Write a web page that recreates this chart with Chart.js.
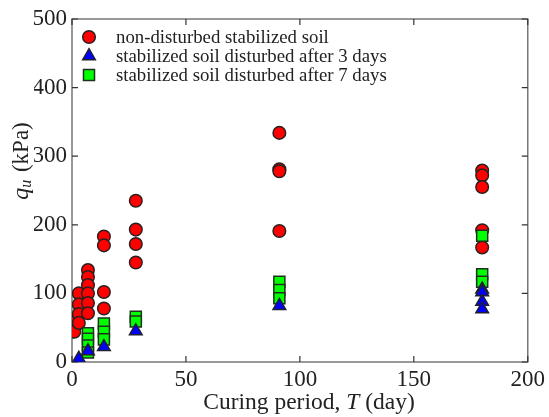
<!DOCTYPE html>
<html>
<head>
<meta charset="utf-8">
<script src="https://cdn.jsdelivr.net/npm/chart.js@4"></script>
<style>
  html, body { margin: 0; padding: 0; background: #fff; }
  #wrap { width: 549px; height: 417px; }
</style>
</head>
<body>
<div id="wrap"><canvas id="quChart"></canvas></div>
<script>
// curing period T (day) and unconfined strength qu (kPa)
const nonDistT = [1, 1, 1, 3, 3, 3, 3, 7, 7, 7, 7, 7, 7, 14, 14, 14, 14, 28, 28, 28, 28, 91, 91, 91, 91, 180, 180, 180, 180, 180];
const nonDistQu = [58, 49, 44, 100, 84, 70, 57, 134, 124, 112, 100, 86, 71, 183, 170, 102, 78, 235, 193, 172, 145, 334, 281, 278, 191, 279, 272, 255, 192, 167];

const dist3T = [3, 7, 14, 28, 91, 180, 180, 180, 180];
const dist3Qu = [5, 16, 22, 45, 82, 106, 102, 88, 77];

const dist7T = [7, 7, 7, 7, 14, 14, 14, 28, 28, 91, 91, 91, 180, 180, 180];
const dist7Qu = [42, 34, 24, 14, 56, 44, 33, 66, 59, 117, 105, 93, 184, 128, 117];

const xTicks = [0, 50, 100, 150, 200];
const yTicks = [0, 100, 200, 300, 400, 500];
const seriesNames = ["non-disturbed stabilized soil", "stabilized soil disturbed after 3 days", "stabilized soil disturbed after 7 days"];

const SERIF = "'Liberation Serif', 'Times New Roman', serif";
const pts = (xs, ys) => xs.map((x, i) => ({ x, y: ys[i] }));

// frame with inward ticks, legend and the two axis titles
const decor = {
  id: "decor",
  beforeDatasetsDraw(chart) {
    const { ctx, chartArea: a, scales } = chart;
    ctx.save();
    ctx.strokeStyle = "#777";
    ctx.lineWidth = 1.5;
    ctx.strokeRect(a.left, a.top, a.right - a.left, a.bottom - a.top);
    ctx.strokeStyle = "#333";
    ctx.lineWidth = 1.2;
    ctx.beginPath();
    for (const v of xTicks) {
      const x = scales.x.getPixelForValue(v);
      ctx.moveTo(x, a.bottom); ctx.lineTo(x, a.bottom - 6);
      ctx.moveTo(x, a.top); ctx.lineTo(x, a.top + 6);
    }
    for (const v of yTicks) {
      const y = scales.y.getPixelForValue(v);
      ctx.moveTo(a.left, y); ctx.lineTo(a.left + 6, y);
      ctx.moveTo(a.right, y); ctx.lineTo(a.right - 6, y);
    }
    ctx.stroke();
    ctx.restore();
  },
  afterDraw(chart) {
    const { ctx } = chart;
    ctx.save();
    ctx.fillStyle = "#222";
    ctx.textBaseline = "middle";

    // legend
    chart.data.datasets.forEach((ds, i) => {
      const y = 37 + i * 19;
      ctx.fillStyle = ds.backgroundColor;
      ctx.strokeStyle = ds.borderColor;
      ctx.lineWidth = ds.borderWidth;
      Chart.helpers.drawPoint(ctx, { pointStyle: ds.pointStyle, radius: ds.pointRadius, rotation: 0, borderWidth: ds.borderWidth }, 89, y);
      ctx.fillStyle = "#222";
      ctx.textAlign = "left";
      ctx.font = "18.8px " + SERIF;
      ctx.fillText(seriesNames[i], 116, y + 1);
    });

    // x title
    const parts = [["Curing period, ", ""], ["T", "italic "], [" (day)", ""]];
    let w = 0;
    for (const [t, s] of parts) { ctx.font = s + "23.5px " + SERIF; w += ctx.measureText(t).width; }
    let x = 309 - w / 2;
    ctx.textAlign = "left";
    for (const [t, s] of parts) {
      ctx.font = s + "23.5px " + SERIF;
      ctx.fillText(t, x, 403);
      x += ctx.measureText(t).width;
    }

    // y title, rotated
    ctx.translate(22, 162);
    ctx.rotate(-Math.PI / 2);
    ctx.font = "italic 24px " + SERIF;
    const wq = ctx.measureText("q").width;
    ctx.font = "italic 16px " + SERIF;
    const wu = ctx.measureText("u").width;
    ctx.font = "23px " + SERIF;
    const wk = ctx.measureText(" (kPa)").width;
    let px = -(wq + wu + wk) / 2;
    ctx.font = "italic 24px " + SERIF;
    ctx.fillText("q", px, 0); px += wq;
    ctx.font = "italic 16px " + SERIF;
    ctx.fillText("u", px, 5); px += wu;
    ctx.font = "23px " + SERIF;
    ctx.fillText(" (kPa)", px + 2, 0);
    ctx.restore();
  },
};

new Chart(document.getElementById("quChart").getContext("2d"), {
  type: "scatter",
  data: {
    datasets: [
      { label: seriesNames[0], data: pts(nonDistT, nonDistQu), pointStyle: "circle", pointRadius: 6.3, backgroundColor: "#ff0000", borderColor: "#2a2020", borderWidth: 1.5, order: 3 },
      { label: seriesNames[1], data: pts(dist3T, dist3Qu), pointStyle: "triangle", pointRadius: 7.3, backgroundColor: "#0000ff", borderColor: "#202030", borderWidth: 1.5, order: 1 },
      { label: seriesNames[2], data: pts(dist7T, dist7Qu), pointStyle: "rect", pointRadius: 7.8, backgroundColor: "#00ff00", borderColor: "#203020", borderWidth: 1.5, order: 2 },
    ],
  },
  options: {
    responsive: true,
    maintainAspectRatio: false,
    animation: false,
    events: [],
    layout: { padding: { left: 34, right: 20, top: 19, bottom: 0 } },
    plugins: { legend: { display: false }, tooltip: { enabled: false } },
    scales: {
      x: {
        type: "linear", min: 0, max: 200,
        afterBuildTicks: (s) => { s.ticks = xTicks.map((v) => ({ value: v })); },
        afterFit: (s) => { s.height = 55; },
        grid: { display: false, drawTicks: false },
        border: { display: false },
        ticks: { padding: 4, color: "#222", font: { family: SERIF, size: 23 } },
      },
      y: {
        type: "linear", min: 0, max: 500,
        afterBuildTicks: (s) => { s.ticks = yTicks.map((v) => ({ value: v })); },
        afterFit: (s) => { s.width = 38; },
        grid: { display: false, drawTicks: false },
        border: { display: false },
        ticks: { padding: 5, color: "#222", font: { family: SERIF, size: 23 } },
      },
    },
  },
  plugins: [decor],
});
</script>
</body>
</html>
